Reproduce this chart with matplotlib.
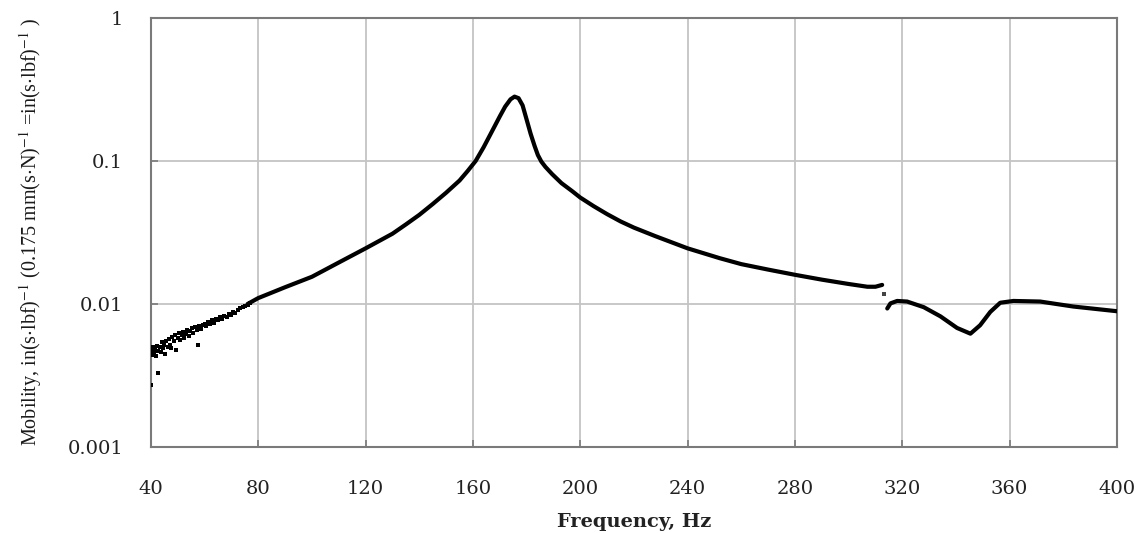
import numpy as np
import matplotlib
matplotlib.use("Agg")
import matplotlib.pyplot as plt
from matplotlib.ticker import FixedLocator, NullLocator

# mobility readings below ~78 Hz are noisy, keep them as loose points
noisy_freq = [40.2, 40.4, 40.6, 40.9, 41.2, 41.5, 41.8, 42.1, 42.5, 42.8,
              43.2, 43.6, 44.0, 44.4, 44.8, 45.2, 45.7, 46.2, 46.6, 47.1,
              47.6, 48.0, 48.5, 49.0, 49.4, 49.9, 50.4, 50.9, 51.4, 51.9,
              52.5, 53.0, 53.5, 54.1, 54.6, 55.2, 55.8, 56.4, 57.0, 57.4,
              58.0, 58.7, 59.3, 60.0, 60.7, 61.4, 62.0, 62.8, 63.5, 64.3,
              65.0, 65.8, 66.6, 67.4, 68.2, 69.0, 69.8, 70.6, 71.5, 72.4,
              73.3, 74.2, 75.1, 76.0, 77.0]
noisy_mob = [0.0027, 0.0047, 0.0044, 0.0050, 0.0046, 0.0049, 0.0043, 0.0051, 0.0047, 0.0033,
             0.0050, 0.0046, 0.0054, 0.0049, 0.0052, 0.0045, 0.0055, 0.0050, 0.0057, 0.0052,
             0.0049, 0.0059, 0.0055, 0.0061, 0.0048, 0.0058, 0.0063, 0.0056, 0.0061, 0.0064,
             0.0058, 0.0062, 0.0066, 0.0060, 0.0065, 0.0068, 0.0063, 0.0069, 0.0066, 0.0052,
             0.0070, 0.0067, 0.0071, 0.0073, 0.0070, 0.0075, 0.0073, 0.0077, 0.0074, 0.0079,
             0.0077, 0.0081, 0.0079, 0.0083, 0.0081, 0.0085, 0.0084, 0.0088, 0.0087, 0.0091,
             0.0093, 0.0095, 0.0097, 0.0099, 0.0102]

# main branch, resonance near 175 Hz
freq_a = [76, 80, 90, 100, 110, 120, 130, 135, 140, 145, 150, 155, 158, 161,
          164, 167, 170, 172, 174, 175.5, 177, 178.5, 180, 181.5, 183, 184.2, 185.5,
          187, 189.5, 193, 197, 200, 205, 210, 215, 220, 228, 240, 252, 260, 270, 280,
          290, 300, 307, 310, 312.5]
mob_a = [0.0100, 0.0110, 0.0131, 0.0155, 0.0195, 0.0245, 0.031, 0.036,
         0.042, 0.050, 0.060, 0.073, 0.085, 0.100, 0.125, 0.160, 0.205, 0.240,
         0.270, 0.282, 0.275, 0.245, 0.195, 0.155, 0.127, 0.110, 0.099,
         0.091, 0.081, 0.070, 0.0615, 0.0555, 0.0483, 0.0425, 0.0378, 0.0342, 0.0298,
         0.0245, 0.0209, 0.0190, 0.0174, 0.0160, 0.0148, 0.0138, 0.0132, 0.0132, 0.0136]

# single stray point at the jump
gap_freq = [313.2]
gap_mob = [0.0118]

# branch after the jump, antiresonance near 345 Hz
freq_b = [314.4, 315.6, 318.1, 321.8, 328, 334.2, 340.4, 345.4, 349, 352.8,
          356.5, 361.4, 371.4, 383.7, 400]
mob_b = [0.0093, 0.0101, 0.0105, 0.0104, 0.0095, 0.0082, 0.0068, 0.0062, 0.0071, 0.0088,
         0.0102, 0.0105, 0.0104, 0.0096, 0.0089]

x_ticks = [40, 80, 120, 160, 200, 240, 280, 320, 360, 400]
y_ticks = [0.001, 0.01, 0.1, 1]
y_tick_labels = ["0.001", "0.01", "0.1", "1"]

plt.rcParams['mathtext.fontset'] = 'stix'

fig = plt.figure(figsize=(11.47, 5.33), dpi=100)
ax = fig.add_axes([0.1316, 0.1614, 0.8422, 0.8048])

ax.set_yscale('log')
ax.set_xlim(40, 400)
ax.set_ylim(0.001, 1)

ax.plot(freq_a, mob_a, color='black', lw=3.0, solid_capstyle='round',
        solid_joinstyle='round', zorder=3)
ax.plot(freq_b, mob_b, color='black', lw=3.0, solid_capstyle='round',
        solid_joinstyle='round', zorder=3)
ax.plot(noisy_freq, noisy_mob, ls='none', marker='s', ms=3.4, mew=0, color='black', zorder=3)
ax.plot(gap_freq, gap_mob, ls='none', marker='s', ms=2.4, mew=0, color='#444444', zorder=3)

ax.xaxis.set_major_locator(FixedLocator(x_ticks))
ax.yaxis.set_major_locator(FixedLocator(y_ticks))
ax.yaxis.set_minor_locator(NullLocator())
ax.set_xticklabels([str(v) for v in x_ticks])
ax.set_yticklabels(y_tick_labels)

ax.grid(True, which='major', color='#c4c4c4', lw=1.3)
ax.set_axisbelow(True)
for s in ax.spines.values():
    s.set_color('#7a7a7a')
    s.set_linewidth(1.5)

ax.tick_params(axis='both', direction='in', length=5, color='#7a7a7a', width=1.2)
ax.tick_params(axis='x', pad=24)
ax.tick_params(axis='y', pad=20)
for lab in ax.get_xticklabels() + ax.get_yticklabels():
    lab.set_fontfamily('DejaVu Serif')
    lab.set_fontsize(14)
    lab.set_color('#222222')

fig.text(0.553, 0.004, "Frequency, Hz", ha='center', va='bottom',
         family='DejaVu Serif', weight='bold', size=14, color='#222222')

ylab = (r"Mobility, in(s$\cdot$lbf)$^{-1}$ (0.175 mm(s$\cdot$N)$^{-1}$"
        r" =in(s$\cdot$lbf)$^{-1}$ )")
fig.text(0.027, 0.565, ylab, rotation=90, ha='center', va='center',
         family='Liberation Serif', size=14.5, color='#1a1a1a')

fig.savefig("out.png", dpi=100)
